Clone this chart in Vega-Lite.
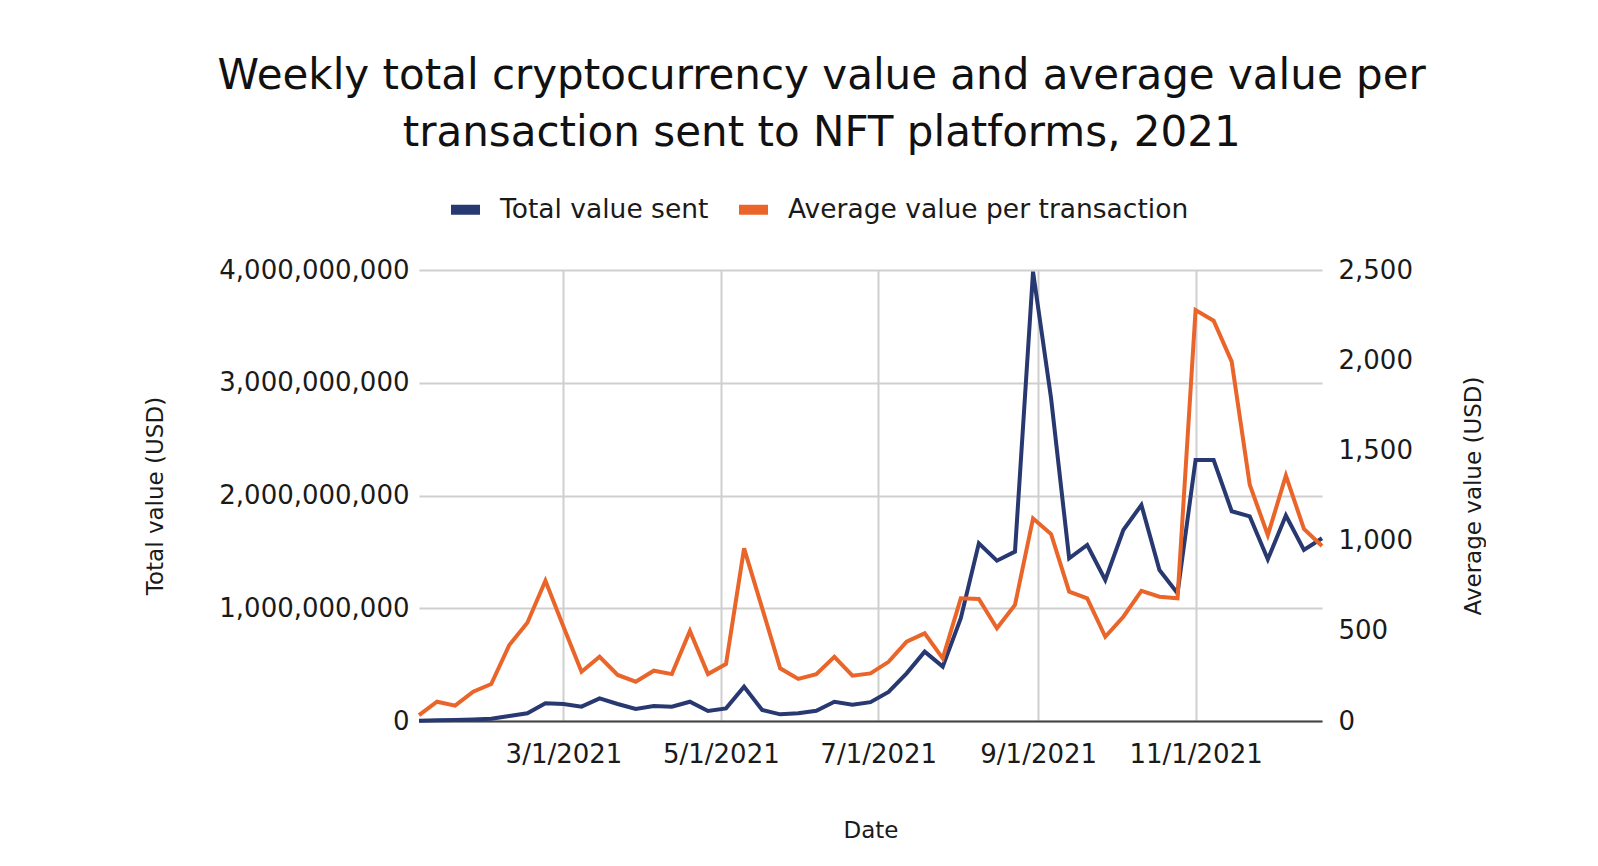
{
  "$schema": "https://vega.github.io/schema/vega-lite/v6.json",
  "width": 903,
  "height": 451,
  "autosize": {"type": "pad"},
  "padding": {"left": 144, "top": 55, "right": 0, "bottom": 0},
  "background": "white",
  "title": {
    "text": ["Weekly total cryptocurrency value and average value per", "transaction sent to NFT platforms, 2021"],
    "font": "DejaVu Sans",
    "fontSize": 42,
    "fontWeight": "normal",
    "lineHeight": 57,
    "color": "#111111",
    "anchor": "middle",
    "frame": "bounds",
    "offset": 35,
    "dx": 7
  },
  "config": {
    "view": {"stroke": null},
    "axis": {
      "labelFont": "DejaVu Sans",
      "labelFontSize": 26,
      "labelColor": "#1a1a1a",
      "labelLimit": 0,
      "titleFont": "DejaVu Sans",
      "titleFontSize": 23,
      "titleFontWeight": "normal",
      "titleColor": "#1a1a1a",
      "ticks": false,
      "gridColor": "#cfcfcf",
      "gridWidth": 2
    },
    "legend": {
      "labelFont": "DejaVu Sans",
      "labelFontSize": 26.5,
      "labelColor": "#1a1a1a",
      "labelLimit": 0
    }
  },
  "data": {
    "values": [
      {"date": "2021/01/04", "total": 3000000, "average": 33},
      {"date": "2021/01/11", "total": 6000000, "average": 107},
      {"date": "2021/01/18", "total": 9000000, "average": 85},
      {"date": "2021/01/25", "total": 13000000, "average": 162},
      {"date": "2021/02/01", "total": 20000000, "average": 205},
      {"date": "2021/02/08", "total": 44000000, "average": 421},
      {"date": "2021/02/15", "total": 68000000, "average": 545},
      {"date": "2021/02/22", "total": 157000000, "average": 778},
      {"date": "2021/03/01", "total": 151000000, "average": 523},
      {"date": "2021/03/08", "total": 127000000, "average": 273},
      {"date": "2021/03/15", "total": 201000000, "average": 356},
      {"date": "2021/03/22", "total": 151000000, "average": 255},
      {"date": "2021/03/29", "total": 106000000, "average": 218},
      {"date": "2021/04/05", "total": 133000000, "average": 279},
      {"date": "2021/04/12", "total": 127000000, "average": 260},
      {"date": "2021/04/19", "total": 171000000, "average": 499},
      {"date": "2021/04/26", "total": 89000000, "average": 260},
      {"date": "2021/05/03", "total": 112000000, "average": 316},
      {"date": "2021/05/10", "total": 304000000, "average": 957},
      {"date": "2021/05/17", "total": 98000000, "average": 626},
      {"date": "2021/05/24", "total": 59000000, "average": 292},
      {"date": "2021/05/31", "total": 68000000, "average": 233},
      {"date": "2021/06/07", "total": 91000000, "average": 260},
      {"date": "2021/06/14", "total": 171000000, "average": 356},
      {"date": "2021/06/21", "total": 145000000, "average": 251},
      {"date": "2021/06/28", "total": 167000000, "average": 264},
      {"date": "2021/07/05", "total": 258000000, "average": 328},
      {"date": "2021/07/12", "total": 423000000, "average": 440},
      {"date": "2021/07/19", "total": 615000000, "average": 486},
      {"date": "2021/07/26", "total": 482000000, "average": 347},
      {"date": "2021/08/02", "total": 911000000, "average": 680},
      {"date": "2021/08/09", "total": 1576000000, "average": 676},
      {"date": "2021/08/16", "total": 1422000000, "average": 514},
      {"date": "2021/08/23", "total": 1502000000, "average": 643},
      {"date": "2021/08/30", "total": 3985000000, "average": 1123},
      {"date": "2021/09/06", "total": 2860000000, "average": 1036},
      {"date": "2021/09/13", "total": 1443000000, "average": 717},
      {"date": "2021/09/20", "total": 1561000000, "average": 680},
      {"date": "2021/09/27", "total": 1251000000, "average": 467},
      {"date": "2021/10/04", "total": 1694000000, "average": 578},
      {"date": "2021/10/11", "total": 1916000000, "average": 722},
      {"date": "2021/10/18", "total": 1339000000, "average": 689},
      {"date": "2021/10/25", "total": 1133000000, "average": 680},
      {"date": "2021/11/01", "total": 2315000000, "average": 2278},
      {"date": "2021/11/08", "total": 2315000000, "average": 2219},
      {"date": "2021/11/15", "total": 1860000000, "average": 1992},
      {"date": "2021/11/22", "total": 1815000000, "average": 1310},
      {"date": "2021/11/29", "total": 1435000000, "average": 1030},
      {"date": "2021/12/06", "total": 1822000000, "average": 1360},
      {"date": "2021/12/13", "total": 1517000000, "average": 1065},
      {"date": "2021/12/20", "total": 1621000000, "average": 970}
    ]
  },
  "encoding": {
    "x": {
      "field": "date",
      "type": "temporal",
      "title": "Date",
      "scale": {"nice": false},
      "axis": {
        "values": [
          {"year": 2021, "month": 3, "date": 1},
          {"year": 2021, "month": 5, "date": 1},
          {"year": 2021, "month": 7, "date": 1},
          {"year": 2021, "month": 9, "date": 1},
          {"year": 2021, "month": 11, "date": 1}
        ],
        "format": "%-m/%-d/%Y",
        "labelPadding": 20,
        "titlePadding": 52,
        "domainColor": "#444444",
        "domainWidth": 2
      }
    },
    "color": {
      "type": "nominal",
      "scale": {
        "domain": ["Total value sent", "Average value per transaction"],
        "range": ["#283870", "#ea652a"]
      },
      "legend": {
        "title": null,
        "orient": "none",
        "direction": "horizontal",
        "legendX": 27,
        "legendY": -80,
        "symbolType": "stroke",
        "symbolSize": 841,
        "symbolStrokeWidth": 10,
        "labelOffset": 15,
        "columnPadding": 10
      }
    }
  },
  "layer": [
    {
      "mark": {"type": "line", "strokeWidth": 4},
      "encoding": {
        "y": {
          "field": "total",
          "type": "quantitative",
          "title": "Total value (USD)",
          "scale": {"domain": [0, 4000000000], "nice": false},
          "axis": {
            "values": [0, 1000000000, 2000000000, 3000000000, 4000000000],
            "format": ",d",
            "domain": false,
            "labelPadding": 10,
            "titlePadding": 52
          }
        },
        "color": {"datum": "Total value sent"}
      }
    },
    {
      "mark": {"type": "line", "strokeWidth": 4},
      "encoding": {
        "y": {
          "field": "average",
          "type": "quantitative",
          "title": "Average value (USD)",
          "scale": {"domain": [0, 2500], "nice": false},
          "axis": {
            "orient": "right",
            "values": [0, 500, 1000, 1500, 2000, 2500],
            "format": ",d",
            "domain": false,
            "grid": false,
            "labelPadding": 16,
            "titlePadding": 50,
            "titleAngle": 270,
            "titleBaseline": "top"
          }
        },
        "color": {"datum": "Average value per transaction"}
      }
    }
  ],
  "resolve": {"scale": {"y": "independent"}}
}
